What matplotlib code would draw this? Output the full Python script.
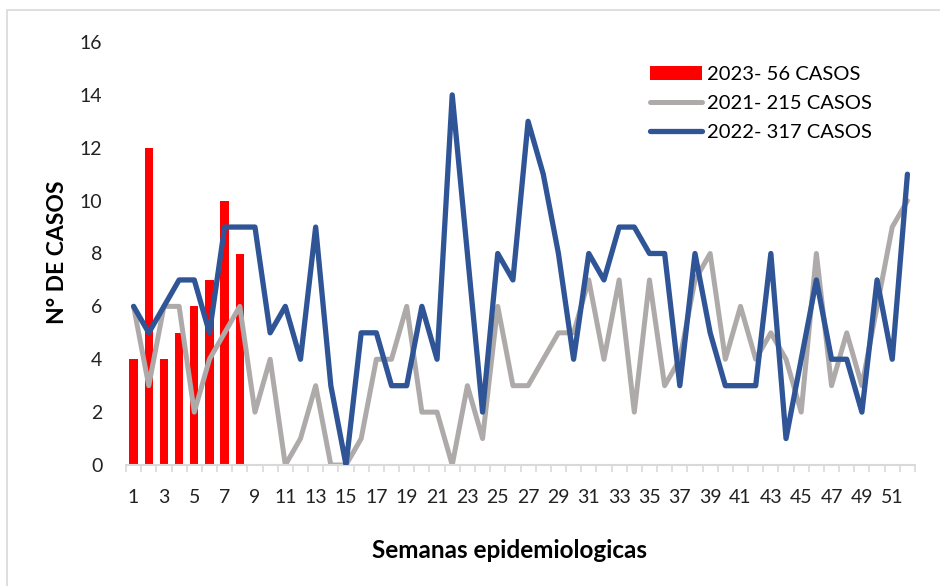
import matplotlib
matplotlib.use("Agg")
import matplotlib.pyplot as plt
from matplotlib.patches import Rectangle

# weekly cases (epidemiological weeks 1-52)
weeks = list(range(1, 53))
casos_2023 = [4, 12, 4, 5, 6, 7, 10, 8]
casos_2021 = [6, 3, 6, 6, 2, 4, 5, 6, 2, 4,
              0, 1, 3, 0, 0, 1, 4, 4, 6, 2,
              2, 0, 3, 1, 6, 3, 3, 4, 5, 5,
              7, 4, 7, 2, 7, 3, 4, 7, 8, 4,
              6, 4, 5, 4, 2, 8, 3, 5, 3, 6,
              9, 10]
casos_2022 = [6, 5, 6, 7, 7, 5, 9, 9, 9, 5,
              6, 4, 9, 3, 0, 5, 5, 3, 3, 6,
              4, 14, 8, 2, 8, 7, 13, 11, 8, 4,
              8, 7, 9, 9, 8, 8, 3, 8, 5, 3,
              3, 3, 8, 1, 4, 7, 4, 4, 2, 7,
              4, 11]
labels = ["2023- 56 CASOS", "2021- 215 CASOS", "2022- 317 CASOS"]

plt.rcParams['font.family'] = ['Lato', 'DejaVu Sans']

fig = plt.figure(figsize=(9.4, 5.86), dpi=100)
ax = fig.add_axes([126 / 940, 1 - 465 / 586, 789 / 940, 423 / 586])

# light frame like the excel chart area
fig.patches.append(Rectangle((7 / 940, -0.05), 1.2, 1 - 10 / 586 + 0.05,
                             transform=fig.transFigure, fill=False,
                             edgecolor='#d9d9d9', linewidth=1.2))

bars = ax.bar(weeks[:len(casos_2023)], casos_2023, width=0.55, color='#FF0000',
              label=labels[0], zorder=1)
l21, = ax.plot(weeks, casos_2021, color='#AEAAAA', lw=3.6, label=labels[1],
               solid_joinstyle='round', solid_capstyle='round', zorder=2)
l22, = ax.plot(weeks, casos_2022, color='#2F5597', lw=3.8, label=labels[2],
               solid_joinstyle='round', solid_capstyle='round', zorder=3)

ax.set_xlim(0.5, 52.5)
ax.set_ylim(0, 16)
ax.set_yticks(range(0, 17, 2))
ax.set_xticks(range(1, 53, 2))
ax.set_xticks([w + 0.5 for w in range(0, 53)], minor=True)
ax.tick_params(axis='y', length=0, pad=17, labelsize=14, labelcolor='#222222')
ax.tick_params(axis='x', which='major', length=0, pad=17, labelsize=14,
               labelcolor='#222222')
ax.tick_params(axis='x', which='minor', length=5, width=1.2, color='#d9d9d9')

for s in ['top', 'right', 'left']:
    ax.spines[s].set_visible(False)
ax.spines['bottom'].set_color('#d9d9d9')
ax.spines['bottom'].set_linewidth(1.5)

fig.text(58 / 940, 1 - 252 / 586, "N° DE CASOS", fontsize=16.5,
         fontweight='bold', ha='center', va='center', rotation=90)
fig.text(510 / 940, 1 - 551 / 586, "Semanas epidemiologicas", fontsize=17.5,
         fontweight='bold', ha='center', va='center')

fig.legend([bars, l21, l22], labels, loc='upper left',
           bbox_to_anchor=(650 / 940, 1 - 66 / 586),
           frameon=False, fontsize=14.5, handlelength=2.6, handletextpad=0.25,
           labelspacing=0.6, borderpad=0, borderaxespad=0)

fig.savefig("out.png", dpi=100)
